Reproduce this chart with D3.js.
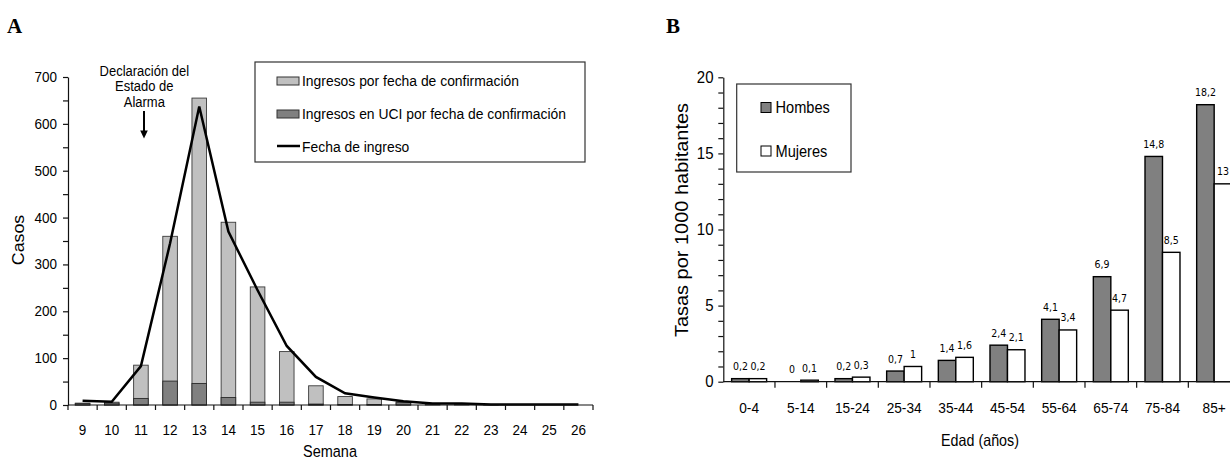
<!DOCTYPE html>
<html>
<head>
<meta charset="utf-8">
<script src="https://cdn.jsdelivr.net/npm/d3@7"></script>
<style>
  body { margin: 0; background: #fff; }
  svg { display: block; }
</style>
</head>
<body>
<svg id="chart" width="1230" height="459"></svg>
<script>
// ---- Panel A: hospital admissions by week ----
const weeks = ["9","10","11","12","13","14","15","16","17","18","19","20","21","22","23","24","25","26"];
const ingresosConfirmacion = [4, 6, 85, 360, 655, 390, 252, 114, 41, 18, 13, 7, 2, 1, 1, 0, 0, 0];
const ingresosUCI = [3, 4, 14, 51, 46, 16, 6, 6, 2, 1, 1, 5, 0, 0, 0, 0, 0, 0];
const fechaIngreso = [9, 7, 83, 345, 637, 370, 245, 126, 60, 25, 16, 8, 3, 3, 1, 1, 1, 1];
const yTicksA = [0, 100, 200, 300, 400, 500, 600, 700];
const yMinorA = [0, 50, 100, 150, 200, 250, 300, 350, 400, 450, 500, 550, 600, 650, 700];
const legendA = ["Ingresos por fecha de confirmación", "Ingresos en UCI por fecha de confirmación", "Fecha de ingreso"];
const annotationA = ["Declaración del", "Estado de", "Alarma"];

// ---- Panel B: rates per 1000 inhabitants by age and sex ----
const ageGroups = ["0-4","5-14","15-24","25-34","35-44","45-54","55-64","65-74","75-84","85+"];
const hombres = [0.2, 0, 0.2, 0.7, 1.4, 2.4, 4.1, 6.9, 14.8, 18.2];
const mujeres = [0.2, 0.1, 0.3, 1, 1.6, 2.1, 3.4, 4.7, 8.5, 13];
const yTicksB = [0, 5, 10, 15, 20];
const yMinorB = d3.range(0, 21, 1);
const legendB = ["Hombes", "Mujeres"];

const FONT = "'Liberation Sans', Arial, Helvetica, sans-serif";
const NARROW = "'Liberation Sans Narrow', 'Arial Narrow', 'DejaVu Sans Condensed', sans-serif";
const SERIF = "'Liberation Serif', 'Times New Roman', serif";
const SY = 1.11; // slightly tall lettering

const svg = d3.select("#chart");

function label(g, x, y, s, o = {}) {
  const size = o.size || 14, anchor = o.anchor || "middle", sy = o.sy || SY;
  return g.append("text")
    .attr("transform", `translate(${x},${y}) scale(1,${sy})`)
    .attr("text-anchor", anchor)
    .attr("font-family", o.font || FONT)
    .attr("font-size", size)
    .attr("font-weight", o.weight || "normal")
    .attr("fill", o.fill || "#000")
    .text(s);
}

// ================= Panel A =================
const gA = svg.append("g");
const xA = d3.scaleBand().domain(weeks).range([68, 593]).padding(0);
const yA = d3.scaleLinear().domain([0, 700]).range([405, 77]);
const bwA = xA.bandwidth();

// total admissions (light) and ICU admissions (dark) drawn from the baseline
gA.append("g").selectAll("rect").data(weeks).join("rect")
  .attr("x", d => xA(d) + bwA * 0.25)
  .attr("width", bwA * 0.5)
  .attr("y", (d, i) => yA(ingresosConfirmacion[i]))
  .attr("height", (d, i) => yA(0) - yA(ingresosConfirmacion[i]))
  .attr("fill", "#c0c0c0").attr("stroke", "#3a3a3a").attr("stroke-width", 0.9);

gA.append("g").selectAll("rect").data(weeks).join("rect")
  .attr("x", d => xA(d) + bwA * 0.25)
  .attr("width", bwA * 0.5)
  .attr("y", (d, i) => yA(ingresosUCI[i]))
  .attr("height", (d, i) => yA(0) - yA(ingresosUCI[i]))
  .attr("fill", "#808080").attr("stroke", "#2a2a2a").attr("stroke-width", 0.9);

const lineA = d3.line()
  .x((d, i) => xA(weeks[i]) + bwA / 2)
  .y(d => yA(d));
gA.append("path").datum(fechaIngreso)
  .attr("d", lineA).attr("fill", "none")
  .attr("stroke", "#000").attr("stroke-width", 2.5);

// y axis
gA.append("g").attr("transform", "translate(68,0)")
  .call(d3.axisLeft(yA).tickValues(yMinorA).tickSize(5).tickSizeOuter(0).tickFormat(""))
  .call(g => g.selectAll("line,path").attr("stroke", "#111").attr("stroke-width", 1.2));
yTicksA.forEach(v => label(gA, 57, yA(v) + 5, String(v), { size: 13.5, anchor: "end" }));

// x axis with ticks at category boundaries
gA.append("line").attr("x1", 68).attr("x2", 593).attr("y1", yA(0)).attr("y2", yA(0))
  .attr("stroke", "#111").attr("stroke-width", 1.2);
const boundsA = weeks.map(d => xA(d)).concat([xA.range()[1]]);
gA.append("g").selectAll("line").data(boundsA).join("line")
  .attr("x1", d => d).attr("x2", d => d)
  .attr("y1", yA(0)).attr("y2", yA(0) + 5)
  .attr("stroke", "#111").attr("stroke-width", 1.2);
weeks.forEach(d => label(gA, xA(d) + bwA / 2, 435, d, { size: 13.5 }));

label(gA, 330, 457, "Semana", { size: 14.5 });
gA.append("text")
  .attr("transform", "translate(24,240) rotate(-90) scale(1.11,1)")
  .attr("text-anchor", "middle").attr("font-family", FONT).attr("font-size", 16)
  .text("Casos");

// annotation with arrow
annotationA.forEach((t, i) => label(gA, 144.3, 75.5 + i * 15.5, t, { size: 13 }));
gA.append("line").attr("x1", 144).attr("x2", 144).attr("y1", 111).attr("y2", 132)
  .attr("stroke", "#000").attr("stroke-width", 2);
gA.append("path").attr("d", "M140.2,130.5 L147.8,130.5 L144,138.5 Z").attr("fill", "#000");

// legend
gA.append("rect").attr("x", 255).attr("y", 62).attr("width", 330).attr("height", 100)
  .attr("fill", "#fff").attr("stroke", "#333").attr("stroke-width", 1.2);
gA.append("rect").attr("x", 277).attr("y", 77).attr("width", 22).attr("height", 8)
  .attr("fill", "#c0c0c0").attr("stroke", "#333").attr("stroke-width", 1);
gA.append("rect").attr("x", 277).attr("y", 110).attr("width", 22).attr("height", 8)
  .attr("fill", "#808080").attr("stroke", "#333").attr("stroke-width", 1);
gA.append("line").attr("x1", 277).attr("x2", 300).attr("y1", 146).attr("y2", 146)
  .attr("stroke", "#000").attr("stroke-width", 2.5);
legendA.forEach((t, i) => label(gA, 302, 85.7 + i * 33, t, { size: 13.9, anchor: "start" }));

label(gA, 7, 33, "A", { size: 21, anchor: "start", font: SERIF, weight: "bold", sy: 1 });

// ================= Panel B =================
const gB = svg.append("g");
const xB = d3.scaleBand().domain(ageGroups).range([723.3, 1240]).padding(0);
const sexB = d3.scaleBand().domain(["H", "M"]).range([0, xB.bandwidth()]).paddingInner(0).paddingOuter(0.477);
const yB = d3.scaleLinear().domain([0, 20]).range([381.7, 77.3]);
const fmt = v => String(v).replace(".", ",");

const series = [
  { key: "H", values: hombres, fill: "#808080" },
  { key: "M", values: mujeres, fill: "#ffffff" }
];
series.forEach(s => {
  const gs = gB.append("g");
  gs.selectAll("rect").data(ageGroups.filter((d, i) => s.values[i] > 0)).join("rect")
    .attr("x", d => xB(d) + sexB(s.key))
    .attr("width", sexB.bandwidth())
    .attr("y", d => yB(s.values[ageGroups.indexOf(d)]))
    .attr("height", d => yB(0) - yB(s.values[ageGroups.indexOf(d)]))
    .attr("fill", s.fill).attr("stroke", "#000").attr("stroke-width", 1.4);
  ageGroups.forEach((d, i) => {
    label(gs, xB(d) + sexB(s.key) + sexB.bandwidth() / 2, yB(s.values[i]) - 8.5, fmt(s.values[i]),
      { size: 10.5, font: NARROW, sy: 1.05 });
  });
});

// y axis
gB.append("g").attr("transform", "translate(723.3,0)")
  .call(d3.axisLeft(yB).tickValues(yMinorB).tickSize(5).tickSizeOuter(0).tickFormat(""))
  .call(g => g.selectAll("line,path").attr("stroke", "#111").attr("stroke-width", 1.2));
yTicksB.forEach(v => label(gB, 713.5, yB(v) + 5.5, String(v), { size: 15, anchor: "end" }));

// x axis
gB.append("line").attr("x1", 723.3).attr("x2", 1240).attr("y1", yB(0)).attr("y2", yB(0))
  .attr("stroke", "#111").attr("stroke-width", 1.2);
gB.append("g").selectAll("line").data(ageGroups.slice(1)).join("line")
  .attr("x1", d => xB(d)).attr("x2", d => xB(d))
  .attr("y1", yB(0)).attr("y2", yB(0) + 6)
  .attr("stroke", "#111").attr("stroke-width", 1.2);
ageGroups.forEach(d => label(gB, xB(d) + xB.bandwidth() / 2, 413.3, d, { size: 13.7 }));

label(gB, 980, 446, "Edad (años)", { size: 14.3 });
gB.append("text")
  .attr("transform", "translate(688,220) rotate(-90) scale(1.11,1)")
  .attr("text-anchor", "middle").attr("font-family", FONT).attr("font-size", 18)
  .text("Tasas por 1000 habitantes");

// legend
gB.append("rect").attr("x", 736.7).attr("y", 84).attr("width", 114.3).attr("height", 88)
  .attr("fill", "#fff").attr("stroke", "#333").attr("stroke-width", 1.2);
gB.append("rect").attr("x", 761).attr("y", 102.5).attr("width", 10).attr("height", 10)
  .attr("fill", "#808080").attr("stroke", "#000").attr("stroke-width", 1);
gB.append("rect").attr("x", 761).attr("y", 146).attr("width", 10).attr("height", 10)
  .attr("fill", "#fff").attr("stroke", "#000").attr("stroke-width", 1);
legendB.forEach((t, i) => label(gB, 775.5, 113 + i * 44, t, { size: 14.6, anchor: "start" }));

label(gB, 666, 33, "B", { size: 21, anchor: "start", font: SERIF, weight: "bold", sy: 1 });
</script>
</body>
</html>
